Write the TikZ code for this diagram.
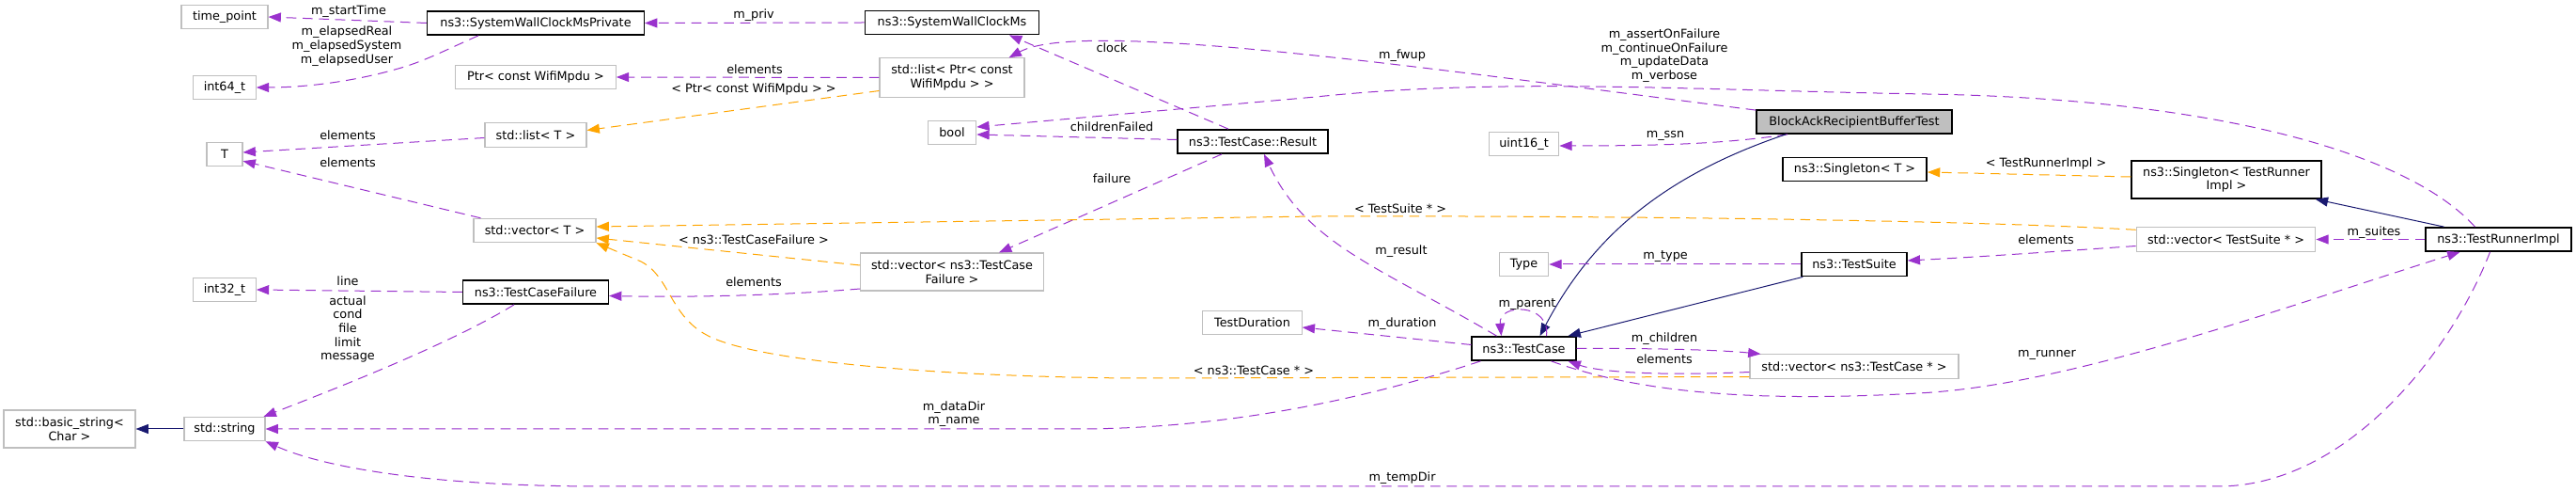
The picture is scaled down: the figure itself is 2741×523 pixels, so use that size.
\documentclass[tikz,border=0pt]{standalone}
\usepackage{fontspec}
\setmainfont{DejaVu Sans}
\usetikzlibrary{arrows.meta, calc}
\definecolor{memberpurple}{HTML}{9A32CD}
\definecolor{tmplorange}{HTML}{FFA500}
\definecolor{inhnavy}{HTML}{191970}
\definecolor{boxgray}{HTML}{BFBFBF}
\tikzset{
  cls/.style={draw=black, line width=1.1pt, inner sep=0pt, minimum height=19pt, align=center},
  ext/.style={draw=boxgray, line width=0.8pt, inner sep=0pt, minimum height=19pt, align=center},
  lbl/.style={inner sep=0pt, align=center},
  member/.style={draw=memberpurple, line width=0.75pt, dash pattern=on 8pt off 5pt,
    -{Triangle[length=10pt, width=7.5pt]}, fill=none},
  templ/.style={draw=tmplorange, line width=0.75pt, dash pattern=on 8pt off 5pt,
    -{Triangle[length=10pt, width=7.5pt]}},
  inherit/.style={draw=inhnavy, line width=0.75pt, -{Triangle[length=10pt, width=7.5pt]}},
}

\begin{document}
\begin{tikzpicture}[x=0.75pt, y=-0.75pt, font=\fontsize{9.6}{11}\selectfont]
    \useasboundingbox (0,0) rectangle (2741,523);
    \node[ext, minimum width=69pt] (timePoint) at (239,18) {time\_point};
    \node[cls, minimum width=173pt] (clockPriv) at (570,24.5) {ns3::SystemWallClockMsPrivate};
    \node[ext, minimum width=50pt] (int64) at (239,93) {int64\_t};
    \node[ext, minimum width=128pt] (ptrMpdu) at (570,82) {Ptr< const WifiMpdu >};
    \node[ext, minimum width=81pt] (listT) at (570,143.5) {std::list< T >};
    \node[ext, minimum width=28.5pt] (tParam) at (239,164) {T};
    \node[ext, minimum width=97.5pt] (vectorT) at (569,245) {std::vector< T >};
    \node[ext, minimum width=50pt] (int32) at (239,308) {int32\_t};
    \node[cls, minimum width=116pt] (tcFailure) at (570,310.5) {ns3::TestCaseFailure};
    \node[ext, minimum width=105pt, minimum height=30pt] (basicString) at (74,456) {std::basic\_string<\\Char >};
    \node[ext, minimum width=64.5pt] (stdString) at (239,456) {std::string};
    \node[cls, minimum width=139pt] (wallClock) at (1013,24) {ns3::SystemWallClockMs};
    \node[ext, minimum width=115.5pt, minimum height=31pt] (listPtr) at (1013,82.5) {std::list< Ptr< const\\WifiMpdu > >};
    \node[ext, minimum width=38.6pt] (boolT) at (1013,141) {bool};
    \node[cls, minimum width=120pt] (tcResult) at (1333,150.5) {ns3::TestCase::Result};
    \node[ext, minimum width=146pt, minimum height=30pt] (vecFailure) at (1013,289) {std::vector< ns3::TestCase\\Failure >};
    \node[ext, minimum width=79pt] (duration) at (1332.5,343) {TestDuration};
    \node[ext, minimum width=56pt] (uint16) at (1621.5,153) {uint16\_t};
    \node[cls, fill=boxgray, minimum width=156pt] (bufferTest) at (1973,129.5) {BlockAckRecipientBufferTest};
    \node[cls, minimum width=115pt] (singletonT) at (1973.5,180) {ns3::Singleton< T >};
    \node[ext, minimum width=39.5pt] (typeT) at (1621.5,281) {Type};
    \node[cls, minimum width=84pt] (testSuite) at (1973,281) {ns3::TestSuite};
    \node[cls, minimum width=83pt] (testCase) at (1621.5,370.5) {ns3::TestCase};
    \node[ext, minimum width=166.5pt] (vecCase) at (1973,389.5) {std::vector< ns3::TestCase * >};
    \node[cls, minimum width=151.5pt, minimum height=30pt] (singletonR) at (2369,191) {ns3::Singleton< TestRunner\\Impl >};
    \node[ext, minimum width=143pt] (vecSuite) at (2368.5,254.5) {std::vector< TestSuite * >};
    \node[cls, minimum width=116pt] (runnerImpl) at (2658.5,254.5) {ns3::TestRunnerImpl};

    \draw[member] (clockPriv.west) -- (timePoint.east);
    \draw[member] ($(clockPriv.south)+(-61,0)$) .. controls (470,55) and (450,66) .. (420,74) .. controls (370,88) and (320,93) .. (int64.east);
    \draw[member] (wallClock.west) -- (clockPriv.east);
    \draw[member] (listPtr.west) -- (ptrMpdu.east);
    \draw[templ] ($(listPtr.west)+(0,14)$) -- ($(listT.east)+(0,-5)$);
    \draw[member] ($(listT.west)+(0,3)$) -- ($(tParam.east)+(0,-2)$);
    \draw[member] ($(vectorT.north west)+(8,0)$) -- ($(tParam.south east)+(0,-6)$);
    \draw[templ] ($(vecFailure.west)+(0,-7)$) -- ($(vectorT.east)+(0,8)$);
    \draw[member] ($(vecFailure.west)+(0,18)$) .. controls (820,315) and (720,316) .. ($(tcFailure.east)+(0,4)$);
    \draw[member] (tcFailure.west) -- (int32.east);
    \draw[member] ($(tcFailure.south)+(-23,0)$) .. controls (480,365) and (360,412) .. ($(stdString.north east)+(-2,0)$);
    \draw[inherit] (stdString.west) -- (basicString.east);
    \draw[member] ($(testCase.south west)+(10,0)$) .. controls (1480,415) and (1330,455) .. (1150,456) -- (stdString.east);
    \draw[member] ($(runnerImpl.south)+(-9,0)$) .. controls (2610,370) and (2500,517) .. (2360,517) -- (640,517) .. controls (450,517) and (340,495) .. (stdString.south east);
    \draw[member] ($(tcResult.north)+(-26,0)$) -- ($(wallClock.south)+(61,0)$);
    \draw[member] ($(tcResult.west)+(0,-2)$) -- ($(boolT.east)+(0,2)$);
    \draw[member] ($(tcResult.south)+(-33,0)$) -- ($(vecFailure.north)+(50,0)$);
    \draw[member] ($(testCase.north)+(-29,0)$) .. controls (1470,285) and (1390,260) .. ($(tcResult.south)+(12,0)$);
    \draw[member] ($(runnerImpl.north)+(-25,0)$) .. controls (2560,160) and (2350,105) .. (2050,100) .. controls (1800,96) and (1600,82) .. (1400,103) -- ($(boolT.east)+(0,-6)$);
    \draw[member] ($(bufferTest.north west)+(0,1)$) .. controls (1500,70) and (1150,20) .. ($(listPtr.north east)+(-17,0)$);
    \draw[member] ($(bufferTest.south)+(-71,0)$) .. controls (1840,152) and (1780,155) .. ($(uint16.east)+(0,2)$);
    \draw[inherit] ($(bufferTest.south)+(-73,0)$) .. controls (1760,190) and (1690,260) .. ($(testCase.north)+(17,0)$);
    \draw[inherit] ($(testSuite.south west)+(2,0)$) -- ($(testCase.north east)+(-9,0)$);
    \draw[member] (testSuite.west) -- (typeT.east);
    \draw[member] ($(testCase.north)+(24,0)$) .. controls (1650,322) and (1594,322) .. ($(testCase.north)+(-24,0)$);
    \draw[member] ($(testCase.west)+(0,-4)$) -- ($(duration.east)+(0,5)$);
    \draw[member] (testCase.east) .. controls (1760,370) and (1830,372) .. ($(vecCase.north west)+(12,0)$);
    \draw[member] ($(vecCase.west)+(0,6)$) .. controls (1760,400) and (1700,395) .. ($(testCase.south east)+(-9,0)$);
    \draw[templ] ($(vecCase.west)+(0,11)$) -- (1200,402) .. controls (1000,400) and (820,385) .. (760,360) .. controls (712,340) and (715,295) .. (682,278) -- (vectorT.south east);
    \draw[templ] ($(vecSuite.north west)+(0,3)$) .. controls (2100,234) and (1700,229) .. (1400,230) -- ($(vectorT.east)+(0,-4)$);
    \draw[member] ($(vecSuite.west)+(0,7)$) .. controls (2150,270) and (2090,274) .. ($(testSuite.east)+(0,-4)$);
    \draw[member] (runnerImpl.west) -- (vecSuite.east);
    \draw[inherit] ($(runnerImpl.north west)+(20,0)$) -- ($(singletonR.south east)+(-7,0)$);
    \draw[templ] ($(singletonR.west)+(0,-3)$) -- ($(singletonT.east)+(0,3)$);
    \draw[member] ($(testCase.south east)+(-27,0)$) .. controls (1750,420) and (1880,427) .. (2041,418) .. controls (2200,410) and (2420,330) .. ($(runnerImpl.south)+(-41,0)$);

    \node[lbl] (lStartTime) at (371,12) {m\_startTime};
    \node[lbl] (lElapsed) at (369,49) {m\_elapsedReal\\m\_elapsedSystem\\m\_elapsedUser};
    \node[lbl] (lPriv) at (802,16) {m\_priv};
    \node[lbl] (lPtrElem) at (803,74) {elements};
    \node[lbl] (lPtrTmpl) at (802,95) {< Ptr< const WifiMpdu > >};
    \node[lbl] (lListElem) at (370,144) {elements};
    \node[lbl] (lVecElem) at (370,173) {elements};
    \node[lbl] (lFailTmpl) at (802,255) {< ns3::TestCaseFailure >};
    \node[lbl] (lFailElem) at (802,300) {elements};
    \node[lbl] (lLine) at (370,299) {line};
    \node[lbl] (lActual) at (370,350) {actual\\cond\\file\\limit\\message};
    \node[lbl] (lDataDir) at (1015,440) {m\_dataDir\\m\_name};
    \node[lbl] (lTempDir) at (1492,508) {m\_tempDir};
    \node[lbl] (lClock) at (1183,51) {clock};
    \node[lbl] (lChildFail) at (1183,135) {childrenFailed};
    \node[lbl] (lFailure) at (1183,190) {failure};
    \node[lbl] (lResult) at (1491,267) {m\_result};
    \node[lbl] (lAssert) at (1771,59) {m\_assertOnFailure\\m\_continueOnFailure\\m\_updateData\\m\_verbose};
    \node[lbl] (lFwup) at (1492,59) {m\_fwup};
    \node[lbl] (lSsn) at (1772,144) {m\_ssn};
    \node[lbl] (lType) at (1772,273) {m\_type};
    \node[lbl] (lParent) at (1625,324) {m\_parent};
    \node[lbl] (lDuration) at (1492,344) {m\_duration};
    \node[lbl] (lChildren) at (1771,360) {m\_children};
    \node[lbl] (lCaseElem) at (1771,382) {elements};
    \node[lbl] (lCaseTmpl) at (1334,394) {< ns3::TestCase * >};
    \node[lbl] (lSuiteTmpl) at (1490,222) {< TestSuite * >};
    \node[lbl] (lSuiteElem) at (2177,255) {elements};
    \node[lbl] (lSuites) at (2526,247) {m\_suites};
    \node[lbl] (lRunnerTmpl) at (2177,174) {< TestRunnerImpl >};
    \node[lbl] (lRunner) at (2178,377) {m\_runner};
  \end{tikzpicture}
\end{document}
